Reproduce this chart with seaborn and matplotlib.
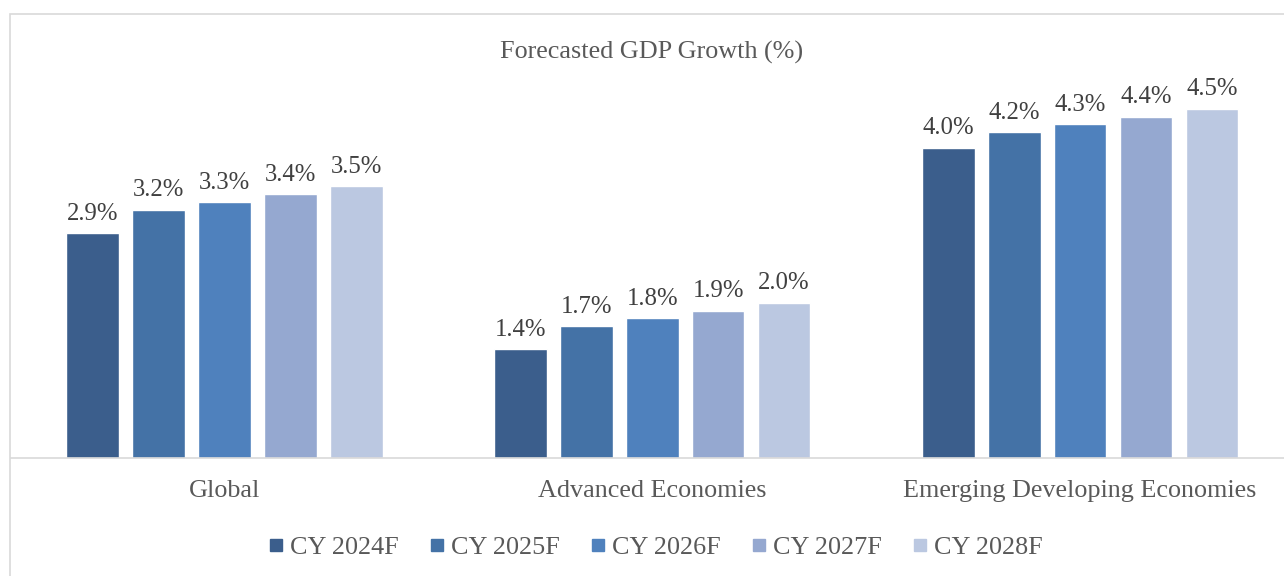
import pandas as pd
import matplotlib.pyplot as plt
import seaborn as sns
from matplotlib.patches import Rectangle
from matplotlib.lines import Line2D

# Chart data
regions = ["Global", "Advanced Economies", "Emerging Developing Economies"]
years = ["CY 2024F", "CY 2025F", "CY 2026F", "CY 2027F", "CY 2028F"]
global_growth = [2.9, 3.2, 3.3, 3.4, 3.5]
advanced_growth = [1.4, 1.7, 1.8, 1.9, 2.0]
emerging_growth = [4.0, 4.2, 4.3, 4.4, 4.5]
colors = ["#3B5E8C", "#4472A6", "#4F81BD", "#95A8D0", "#BBC8E1"]

data = pd.DataFrame({
    "region": [r for r in regions for _ in years],
    "year": years * 3,
    "growth": global_growth + advanced_growth + emerging_growth,
})

sns.set_style("white")
plt.rcParams["font.family"] = ["Liberation Serif", "DejaVu Serif"]

fig = plt.figure(figsize=(12.84, 5.76), dpi=100)
ax = fig.add_axes([10.5 / 1284, 118 / 576, 1283.5 / 1284, 388 / 576])

sns.barplot(data=data, x="region", y="growth", hue="year", palette=colors,
            width=0.77, gap=0.2, ax=ax, legend=False, saturation=1)

for cont in ax.containers:
    ax.bar_label(cont, fmt="{:.1f}%", padding=6, fontsize=17.8, color="#404040")

ax.set_xlim(-0.5, 2.5)
ax.set_ylim(0, 5)
ax.set_xlabel("")
ax.set_ylabel("")
ax.set_yticks([])
ax.tick_params(axis="x", length=0, labelsize=18.8, colors="#595959", pad=16)
for side in ["top", "right", "left"]:
    ax.spines[side].set_visible(False)
ax.spines["bottom"].set_color("#D9D9D9")
ax.spines["bottom"].set_linewidth(1.2)

# outer chart frame
fig.patches.append(Rectangle((10 / 1284, -0.05), 1.1, (576 - 14) / 576 + 0.05,
                             transform=fig.transFigure, fill=False,
                             edgecolor="#D9D9D9", linewidth=1.2))

fig.text(652 / 1284, 1 - 52 / 576, "Forecasted GDP Growth (%)", ha="center",
         va="center", fontsize=18.8, color="#595959")

handles = [Line2D([], [], marker="s", linestyle="", markersize=9,
                  markerfacecolor=c, markeredgecolor=c) for c in colors]
fig.legend(handles, years, loc="center", bbox_to_anchor=(656 / 1284, 1 - 547 / 576),
           ncol=5, frameon=False, fontsize=18.8, labelcolor="#595959",
           handlelength=0.5, handletextpad=0.3, columnspacing=1.2)

fig.savefig("out.png", dpi=100)
